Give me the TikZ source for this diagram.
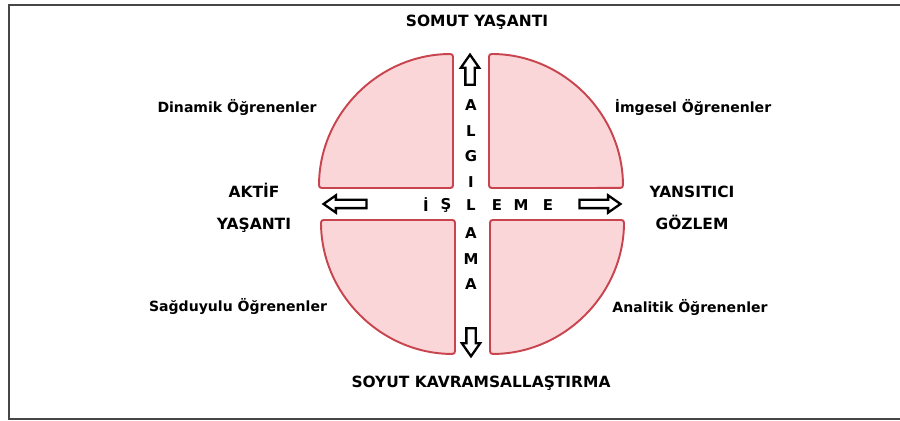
\documentclass[tikz,border=0pt]{standalone}
\usepackage{fontspec}
\setmainfont{DejaVu Sans}
\usepackage{tikz}
\usetikzlibrary{positioning,shapes.arrows}
\definecolor{quadfill}{RGB}{251,214,216}
\definecolor{quadline}{RGB}{200,68,78}
\definecolor{frameline}{RGB}{70,70,70}

\begin{document}
\begin{tikzpicture}[
  x=0.02cm, y=0.02cm,
  node distance=0.2cm and 0.4cm,
  every text node part/.style={align=center},
  lbl/.style={font=\fontsize{8}{9.6}\selectfont\bfseries, inner sep=1pt},
  title/.style={font=\fontsize{8.8}{10.5}\selectfont\bfseries, inner sep=1pt},
  letter/.style={font=\fontsize{8.5}{10}\selectfont\bfseries, inner sep=0pt},
  quad/.style={draw=quadline, fill=quadfill, line width=1.1pt, rounded corners=1.5pt},
  blockarr/.style={single arrow, draw=black, fill=white, line width=1.3pt, inner sep=0.07cm,
    single arrow head extend=0.09cm, single arrow tip angle=70}
]
  \useasboundingbox (0,0) rectangle (900,421);
  \draw[frameline, line width=1.2pt] (9,416) rectangle (906,2);

  % quadrants
  \draw[quad] (453,233) -- ++(-134,0) arc[start angle=180, end angle=90, radius=2.68cm] -- cycle;
  \draw[quad] (489,233) -- ++(0,134) arc[start angle=90, end angle=0, radius=2.68cm] -- cycle;
  \draw[quad] (455,201) -- ++(-134,0) arc[start angle=180, end angle=270, radius=2.68cm] -- cycle;
  \draw[quad] (490,201) -- ++(134,0) arc[start angle=0, end angle=-90, radius=2.68cm] -- cycle;

  % block arrows
  \node[blockarr, minimum height=0.60cm, rotate=90] (up) at (470,348) {};
  \node[blockarr, minimum height=0.56cm, rotate=-90] (down) at (471,82) {};
  \node[blockarr, minimum height=0.86cm, inner sep=0.06cm, rotate=180] (left) at (348,217) {};
  \node[blockarr, minimum height=0.82cm, inner sep=0.06cm] (right) at (597,217) {};

  % ALGILAMA / ISLEME
  \node[letter] (a1) at (471,316) {A};
  \node[letter] (l1) at (471,290) {L};
  \node[letter] (g1) at (471,265) {G};
  \node[letter] (i1) at (471,239) {I};
  \node[letter] (l2) at (471,216) {L};
  \node[letter] (a2) at (471,188) {A};
  \node[letter] (m1) at (471,162) {M};
  \node[letter] (a3) at (471,137) {A};
  \node[letter] (i2) at (426,216) {İ};
  \node[letter] (s1) at (446,216) {Ş};
  \node[letter] (e1) at (497,216) {E};
  \node[letter] (m2) at (521,216) {M};
  \node[letter] (e2) at (548,216) {E};

  % poles
  \node[title] (somut) at (477,399) {SOMUT YAŞANTI};
  \node[title] (soyut) at (481,38) {SOYUT KAVRAMSALLAŞTIRMA};
  \node[title] (aktif) at (254,213) {AKTİF\\[8pt]YAŞANTI};
  \node[title] (yansi) at (692,213) {YANSITICI\\[8pt]GÖZLEM};

  % learner types
  \node[lbl] (dinamik) at (237,313) {Dinamik Öğrenenler};
  \node[lbl] (imgesel) at (693,313) {İmgesel Öğrenenler};
  \node[lbl] (sagduyu) at (238,114) {Sağduyulu Öğrenenler};
  \node[lbl] (analitik) at (690,113) {Analitik Öğrenenler};
\end{tikzpicture}
\end{document}
